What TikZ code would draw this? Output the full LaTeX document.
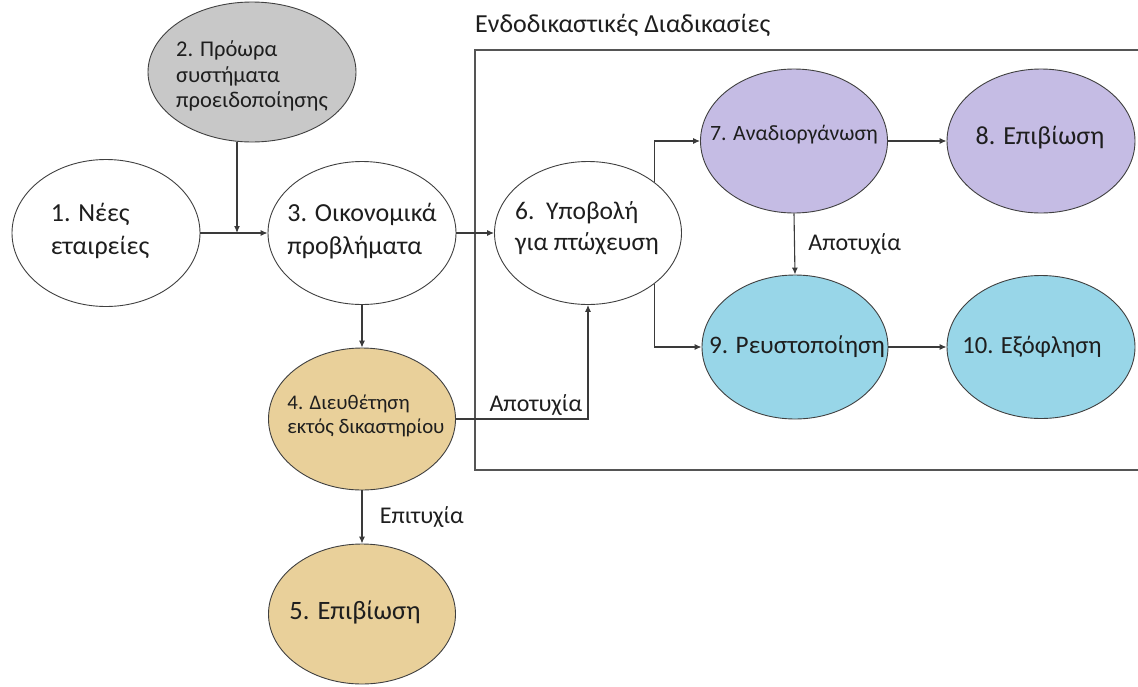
\documentclass[tikz,border=0pt]{standalone}
\usepackage{fontspec}
\setmainfont{Carlito}
\usetikzlibrary{shapes.geometric,arrows.meta}
\definecolor{gfill}{HTML}{C8C8C8}
\definecolor{tfill}{HTML}{E9D09A}
\definecolor{pfill}{HTML}{C5BCE4}
\definecolor{cfill}{HTML}{98D6E8}
\definecolor{lnk}{HTML}{3A3A3A}
\definecolor{boxc}{HTML}{555555}
\definecolor{txt}{HTML}{1E1E1E}
\begin{document}
\begin{tikzpicture}[x=1pt,y=-1pt,
  ell/.style 2 args={ellipse, draw=black!75, line width=0.9pt, inner sep=0pt,
                     minimum width=#1, minimum height=#2},
  lbl/.style={align=left, text=txt, inner sep=0pt},
  fs/.style 2 args={font=\fontsize{#1}{#2}\selectfont},
  arr/.style={draw=lnk, line width=1.1pt, -{Latex[length=7pt,width=6pt]}},
  elab/.style={text=txt, font=\fontsize{24}{28}\selectfont}
]
\useasboundingbox (0,0) rectangle (1138,686);
\fill[white] (0,0) rectangle (1138,686);

% box of in-court procedures
\node[anchor=west, text=txt, inner sep=0pt, fs={26}{30}] (title) at (475,25) {Ενδοδικαστικές Διαδικασίες};
\draw[boxc, line width=1.4pt] (1142,50) -- (475,50) -- (475,470) -- (1142,470);

% ellipses
\node[ell={208}{140}, fill=gfill] (n2) at (252,72) {};
\node[ell={188}{147}, fill=white] (n1) at (106,233) {};
\node[ell={188}{143}, fill=white] (n3) at (362,233) {};
\node[ell={187}{143}, fill=white] (n6) at (588,233) {};
\node[ell={187}{144}, fill=pfill] (n7) at (794,141) {};
\node[ell={188}{144}, fill=pfill] (n8) at (1041,141) {};
\node[ell={186}{144}, fill=cfill] (n9) at (795,347) {};
\node[ell={188}{143}, fill=cfill] (n10) at (1041,347) {};
\node[ell={187}{142}, fill=tfill] (n4) at (362,419) {};
\node[ell={187}{140}, fill=tfill] (n5) at (362,614) {};

% texts
\node[lbl, fs={22.5}{25.5}] (t2) at (252,76) {2. Πρόωρα\\συστήματα\\προειδοποίησης};
\node[lbl, fs={26}{32.5}] (t1) at (100,231) {1. Νέες\\εταιρείες};
\node[lbl, fs={26}{32.5}] (t3) at (362,231) {3. Οικονομικά\\προβλήματα};
\node[lbl, fs={25.5}{31}] (t6) at (587,228) {6.\ \ Υποβολή\\για πτώχευση};
\node[lbl, fs={21.8}{25}] (t7) at (794,135) {7. Αναδιοργάνωση};
\node[lbl, fs={26}{30}] (t8) at (1040,138) {8. Επιβίωση};
\node[lbl, fs={25.2}{30}] (t9) at (797,347) {9. Ρευστοποίηση};
\node[lbl, fs={24.6}{30}] (t10) at (1032,347) {10. Εξόφληση};
\node[lbl, fs={20.8}{23.5}] (t4) at (366,416) {4. Διευθέτηση\\εκτός δικαστηρίου};
\node[lbl, fs={26.5}{30}] (t5) at (355,612) {5. Επιβίωση};

% connectors
\coordinate (j2) at (237,233);
\draw[arr] (n1.east) -- (n3.west);
\draw[arr] (n2.south -| j2) -- (j2);
\draw[arr] (n3.east) -- (n6.west);
\draw[arr] (n3.south) -- (n4.north);
\draw[arr] (n4.south) -- node[elab, right, xshift=14pt] (l5) {Επιτυχία} (n5.north);
\draw[arr] (n4.east) -| node[elab, above left, pos=0.5, xshift=-2pt] (l46) {Αποτυχία} (n6.south);
\draw[arr] (n6.north east) |- (n7.west);
\draw[arr] (n6.south east) |- (n9.west);
\draw[arr] (n7.east) -- (n8.west);
\draw[arr] (n7.south) -- node[elab, right, xshift=10pt] (l79) {Αποτυχία} (n9.north);
\draw[arr] (n9.east) -- (n10.west);
\end{tikzpicture}
\end{document}
